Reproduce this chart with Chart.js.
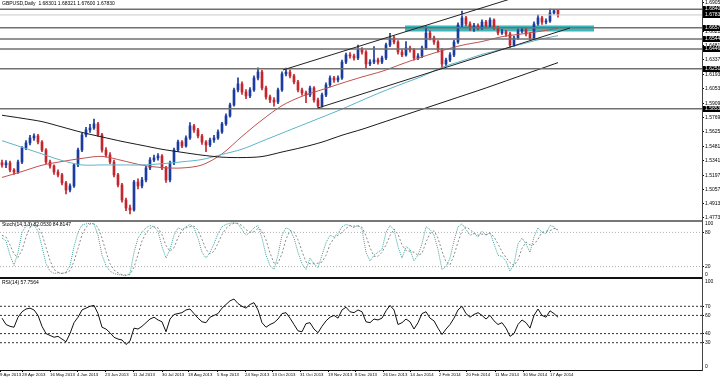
<!DOCTYPE html>
<html>
<head>
<meta charset="utf-8">
<script src="https://cdn.jsdelivr.net/npm/chart.js@4.4.1/dist/chart.umd.min.js"></script>
<style>
html, body { margin: 0; padding: 0; background: #fff; }
#wrap { position: relative; width: 720px; height: 377px; overflow: hidden; background: #fff; }
#wrap canvas { position: absolute; left: 0; top: 0; }
</style>
</head>
<body>
<div id="wrap">
  <canvas id="mainChart" width="720" height="377"></canvas>
  <canvas id="stochChart" width="720" height="377"></canvas>
  <canvas id="rsiChart" width="720" height="377"></canvas>
</div>
<script>
// GBPUSD daily, one candle per slot (slot = x index)
const opens = [
  1.5320, 1.5298, 1.5318, 1.5248, 1.5228, 1.5327, 1.5466, 1.5516, 1.5565, 1.5585,
  1.5525, 1.5446, 1.5327, 1.5288, 1.5228, 1.5199, 1.5120, 1.5050, 1.5090, 1.5298,
  1.5446, 1.5595, 1.5644, 1.5664, 1.5704, 1.5595, 1.5446, 1.5397, 1.5327, 1.5199,
  1.5100, 1.4951, 1.4872, 1.4852, 1.5129, 1.5090, 1.5149, 1.5268, 1.5347, 1.5367,
  1.5387, 1.5268, 1.5149, 1.5318, 1.5446, 1.5525, 1.5486, 1.5565, 1.5684, 1.5644,
  1.5585, 1.5525, 1.5496, 1.5545, 1.5565, 1.5624, 1.5704, 1.5783, 1.5892, 1.6040,
  1.6100, 1.6020, 1.5981, 1.6040, 1.6159, 1.6218, 1.6060, 1.5971, 1.5941, 1.5921,
  1.6040, 1.6199, 1.6218, 1.6179, 1.6119, 1.6040, 1.6011, 1.5991, 1.6060, 1.5941,
  1.5882, 1.5991, 1.6090, 1.6159, 1.6139, 1.6159, 1.6317, 1.6387, 1.6377, 1.6357,
  1.6436, 1.6416, 1.6298, 1.6317, 1.6337, 1.6317, 1.6357, 1.6486, 1.6555, 1.6515,
  1.6416, 1.6387, 1.6456, 1.6436, 1.6357, 1.6377, 1.6456, 1.6605, 1.6555, 1.6515,
  1.6436, 1.6298, 1.6337, 1.6387, 1.6515, 1.6684, 1.6753, 1.6694, 1.6654, 1.6674,
  1.6654, 1.6713, 1.6674, 1.6733, 1.6654, 1.6605, 1.6614, 1.6595, 1.6486, 1.6555,
  1.6624, 1.6634, 1.6595, 1.6555, 1.6694, 1.6753, 1.6713, 1.6723, 1.6803, 1.6830
];
const highs = [
  1.5345, 1.5340, 1.5335, 1.5262, 1.5345, 1.5480, 1.5540, 1.5590, 1.5605, 1.5600,
  1.5540, 1.5460, 1.5345, 1.5300, 1.5250, 1.5215, 1.5135, 1.5110, 1.5310, 1.5465,
  1.5610, 1.5670, 1.5700, 1.5752, 1.5720, 1.5610, 1.5470, 1.5420, 1.5345, 1.5215,
  1.5115, 1.4970, 1.4900, 1.5145, 1.5160, 1.5175, 1.5285, 1.5370, 1.5395, 1.5410,
  1.5400, 1.5285, 1.5335, 1.5465, 1.5545, 1.5540, 1.5585, 1.5717, 1.5700, 1.5660,
  1.5600, 1.5540, 1.5565, 1.5590, 1.5645, 1.5720, 1.5805, 1.5910, 1.6060, 1.6160,
  1.6120, 1.6045, 1.6065, 1.6180, 1.6259, 1.6235, 1.6080, 1.5990, 1.5965, 1.6060,
  1.6220, 1.6257, 1.6240, 1.6195, 1.6135, 1.6060, 1.6030, 1.6080, 1.6075, 1.5960,
  1.6010, 1.6110, 1.6180, 1.6175, 1.6180, 1.6335, 1.6405, 1.6410, 1.6395, 1.6484,
  1.6460, 1.6430, 1.6340, 1.6470, 1.6355, 1.6375, 1.6505, 1.6602, 1.6575, 1.6530,
  1.6440, 1.6520, 1.6475, 1.6450, 1.6400, 1.6475, 1.6668, 1.6625, 1.6575, 1.6530,
  1.6450, 1.6355, 1.6410, 1.6535, 1.6705, 1.6822, 1.6770, 1.6715, 1.6700, 1.6695,
  1.6735, 1.6730, 1.6755, 1.6745, 1.6670, 1.6640, 1.6630, 1.6610, 1.6575, 1.6645,
  1.6660, 1.6650, 1.6610, 1.6715, 1.6785, 1.6770, 1.6745, 1.6841, 1.6838, 1.6832
];
const lows = [
  1.5275, 1.5270, 1.5230, 1.5205, 1.5215, 1.5310, 1.5450, 1.5495, 1.5540, 1.5505,
  1.5430, 1.5310, 1.5265, 1.5205, 1.5180, 1.5100, 1.5010, 1.5030, 1.5075, 1.5280,
  1.5430, 1.5575, 1.5620, 1.5650, 1.5580, 1.5425, 1.5375, 1.5310, 1.5180, 1.5080,
  1.4930, 1.4845, 1.4814, 1.4840, 1.5060, 1.5070, 1.5130, 1.5250, 1.5330, 1.5345,
  1.5250, 1.5125, 1.5130, 1.5300, 1.5430, 1.5470, 1.5475, 1.5550, 1.5620, 1.5565,
  1.5500, 1.5430, 1.5480, 1.5520, 1.5550, 1.5610, 1.5690, 1.5770, 1.5880, 1.6020,
  1.5995, 1.5955, 1.5965, 1.6025, 1.6140, 1.6040, 1.5950, 1.5915, 1.5880, 1.5905,
  1.6025, 1.6180, 1.6160, 1.6100, 1.6020, 1.5990, 1.5915, 1.5975, 1.5920, 1.5855,
  1.5870, 1.5975, 1.6070, 1.6115, 1.6120, 1.6145, 1.6300, 1.6355, 1.6335, 1.6340,
  1.6395, 1.6250, 1.6280, 1.6300, 1.6295, 1.6300, 1.6340, 1.6470, 1.6495, 1.6395,
  1.6370, 1.6375, 1.6415, 1.6335, 1.6340, 1.6360, 1.6440, 1.6535, 1.6490, 1.6415,
  1.6252, 1.6275, 1.6320, 1.6370, 1.6500, 1.6665, 1.6675, 1.6630, 1.6620, 1.6635,
  1.6640, 1.6655, 1.6660, 1.6640, 1.6585, 1.6590, 1.6570, 1.6460, 1.6470, 1.6540,
  1.6605, 1.6575, 1.6535, 1.6540, 1.6680, 1.6690, 1.6695, 1.6710, 1.6790, 1.6760
];
const closes = [
  1.5298, 1.5318, 1.5248, 1.5228, 1.5327, 1.5466, 1.5516, 1.5565, 1.5585, 1.5525,
  1.5446, 1.5327, 1.5288, 1.5228, 1.5199, 1.5120, 1.5050, 1.5090, 1.5298, 1.5446,
  1.5595, 1.5644, 1.5664, 1.5704, 1.5595, 1.5446, 1.5397, 1.5327, 1.5199, 1.5100,
  1.4951, 1.4872, 1.4852, 1.5129, 1.5090, 1.5149, 1.5268, 1.5347, 1.5367, 1.5387,
  1.5268, 1.5149, 1.5318, 1.5446, 1.5525, 1.5486, 1.5565, 1.5684, 1.5644, 1.5585,
  1.5525, 1.5496, 1.5545, 1.5565, 1.5624, 1.5704, 1.5783, 1.5892, 1.6040, 1.6100,
  1.6020, 1.5981, 1.6040, 1.6159, 1.6218, 1.6060, 1.5971, 1.5941, 1.5921, 1.6040,
  1.6199, 1.6218, 1.6179, 1.6119, 1.6040, 1.6011, 1.5991, 1.6060, 1.5941, 1.5882,
  1.5991, 1.6090, 1.6159, 1.6139, 1.6159, 1.6317, 1.6387, 1.6377, 1.6357, 1.6436,
  1.6416, 1.6298, 1.6317, 1.6337, 1.6317, 1.6357, 1.6486, 1.6555, 1.6515, 1.6416,
  1.6387, 1.6456, 1.6436, 1.6357, 1.6377, 1.6456, 1.6605, 1.6555, 1.6515, 1.6436,
  1.6298, 1.6337, 1.6387, 1.6515, 1.6684, 1.6753, 1.6694, 1.6654, 1.6674, 1.6654,
  1.6713, 1.6674, 1.6733, 1.6654, 1.6605, 1.6614, 1.6595, 1.6486, 1.6555, 1.6624,
  1.6634, 1.6595, 1.6555, 1.6694, 1.6753, 1.6713, 1.6723, 1.6803, 1.6825, 1.6783
];

// moving averages, sampled at these slots
const maSlots = [0, 5, 10, 15, 20, 25, 30, 35, 40, 45, 50, 55, 60, 65, 70, 75, 80, 85, 90, 95, 100, 105, 110, 115, 120, 125, 130, 135, 139];
const maRed = [1.5174, 1.5233, 1.5295, 1.5332, 1.5363, 1.5383, 1.5342, 1.5296, 1.5272, 1.5268, 1.5298, 1.5407, 1.5581, 1.5743, 1.5885, 1.5978, 1.6043, 1.6108, 1.6169, 1.6225, 1.6298, 1.6367, 1.6430, 1.6483, 1.6520, 1.6568, 1.6595, 1.6624, 1.6651];
const maCyan = [1.5538, 1.5473, 1.5407, 1.5342, 1.5298, 1.5298, 1.5298, 1.5298, 1.5310, 1.5329, 1.5352, 1.5402, 1.5454, 1.5533, 1.5613, 1.5692, 1.5771, 1.5851, 1.5938, 1.6022, 1.6100, 1.6175, 1.6264, 1.6328, 1.6392, 1.6443, 1.6495, 1.6546, 1.6578];
const maBlack = [1.5790, 1.5760, 1.5727, 1.5674, 1.5620, 1.5575, 1.5531, 1.5492, 1.5453, 1.5423, 1.5395, 1.5375, 1.5371, 1.5381, 1.5426, 1.5471, 1.5524, 1.5592, 1.5651, 1.5717, 1.5783, 1.5849, 1.5915, 1.5981, 1.6047, 1.6116, 1.6186, 1.6255, 1.6311];

// horizontal levels, bid line, channel, zone
const levels = [1.68400, 1.66570, 1.65441, 1.64467, 1.62512, 1.58535];
const bidPrice = 1.67830;
const upperTrend = [[70.25, 1.6238], [129.5, 1.6971]];
const lowerTrend = [[79, 1.5862], [142, 1.6654]];
const zoneSlots = [100.75, 148];
const zonePrices = [1.6624, 1.6674];

// oscillators
const stochK = [
  70, 65, 40, 22, 45, 80, 92, 95, 93, 82,
  55, 25, 12, 8, 9, 8, 10, 22, 55, 80,
  93, 95, 96, 95, 75, 40, 22, 12, 8, 6,
  5, 4, 8, 45, 70, 80, 88, 92, 90, 82,
  55, 35, 50, 75, 88, 85, 90, 94, 88, 70,
  45, 35, 45, 60, 78, 90, 94, 96, 97, 95,
  85, 75, 80, 88, 92, 70, 40, 22, 15, 40,
  75, 88, 85, 70, 45, 25, 15, 35, 25, 18,
  40, 62, 75, 72, 78, 90, 94, 92, 88, 93,
  85, 45, 30, 40, 45, 50, 80, 92, 85, 55,
  35, 55, 50, 30, 40, 60, 90, 85, 75, 50,
  15, 20, 35, 65, 90, 95, 85, 75, 78, 72,
  82, 75, 80, 60, 40, 38, 30, 12, 25, 60,
  70, 60, 45, 72, 88, 80, 78, 92, 90, 82
];
const stochD = [
  75, 72, 58, 42, 36, 49, 72, 89, 93, 90,
  77, 54, 31, 15, 10, 8, 9, 13, 29, 52,
  76, 89, 95, 95, 89, 70, 46, 25, 14, 9,
  6, 5, 6, 19, 41, 65, 79, 87, 90, 88,
  76, 57, 47, 53, 71, 83, 88, 90, 91, 84,
  68, 50, 42, 47, 61, 76, 87, 93, 96, 96,
  92, 85, 80, 81, 87, 83, 67, 44, 26, 26,
  43, 68, 83, 81, 67, 47, 28, 25, 25, 26,
  28, 40, 59, 70, 75, 80, 87, 92, 91, 91,
  89, 74, 53, 38, 38, 45, 58, 74, 86, 77,
  58, 48, 47, 45, 40, 43, 63, 78, 83, 70,
  47, 28, 23, 40, 63, 83, 90, 85, 79, 75,
  77, 76, 79, 72, 60, 46, 36, 27, 22, 32,
  52, 63, 58, 59, 68, 80, 82, 83, 87, 85
];
const rsiValues = [
  57, 50, 48, 47, 58, 64, 67, 68, 66, 60,
  48, 40, 38, 36, 37, 34, 31, 40, 52, 58,
  66, 68, 70, 71, 62, 47, 45, 41, 36, 34,
  33, 28, 32, 46, 45, 48, 52, 56, 58, 55,
  53, 42, 56, 61, 62, 63, 66, 67, 62, 57,
  53, 52, 58, 60, 62, 68, 72, 76, 78, 73,
  70, 68, 72, 74, 66, 52, 47, 50, 52, 56,
  62, 63, 57, 50, 43, 42, 51, 52, 45, 41,
  48, 54, 58, 60, 57, 66, 69, 64, 63, 66,
  64, 53, 52, 56, 55, 57, 65, 71, 66, 50,
  52, 56, 53, 45, 52, 62, 64, 57, 54, 46,
  39, 45, 50, 57, 66, 70, 62, 58, 61, 63,
  60, 56, 60, 54, 50, 52, 46, 37, 40, 50,
  55, 52, 46, 60, 67, 60, 58, 65, 62, 58
];
const stochLevels = [80, 20];
const rsiLevels = [70, 60, 40, 30];

// axes
const priceTicks = [1.6905, 1.6621, 1.6481, 1.6337, 1.6193, 1.6053, 1.5909, 1.5769, 1.5625, 1.5481, 1.5341, 1.5197, 1.5057, 1.4913, 1.4773];
const dateTicks = [-0.5, 5, 12, 18.75, 25.75, 32.75, 40, 46.5, 53.75, 60.75, 67.5, 74.5, 81.5, 88.25, 95.25, 102, 109.25, 116, 123.25, 130.25, 137];
const dateLabels = ['9 Apr 2013', '28 Apr 2013', '16 May 2013', '4 Jun 2013', '23 Jun 2013', '11 Jul 2013', '30 Jul 2013', '18 Aug 2013', '5 Sep 2013', '24 Sep 2013', '13 Oct 2013', '31 Oct 2013', '19 Nov 2013', '8 Dec 2013', '26 Dec 2013', '14 Jan 2014', '2 Feb 2014', '20 Feb 2014', '11 Mar 2014', '30 Mar 2014', '17 Apr 2014'];

const X_MIN = -0.5, X_MAX = 175;
const FONT = "'Liberation Sans', Arial, sans-serif";
const BULL = '#1b3c9e', BEAR = '#c4262e';

Chart.defaults.font.family = FONT;
Chart.defaults.font.size = 5;
Chart.defaults.color = '#000';
Chart.defaults.animation = false;
Chart.defaults.events = [];
Chart.defaults.plugins.legend.display = false;
Chart.defaults.plugins.tooltip.enabled = false;

// titles, panel edges, highlighted price tags
const panelDeco = {
    id: 'panelDeco',
    afterDraw(chart, args, opts) {
        const { ctx, chartArea } = chart;
        const yScale = chart.scales.y;
        ctx.save();
        ctx.font = `5px ${FONT}`;
        ctx.textBaseline = 'middle';
        ctx.fillStyle = '#000';
        if (opts.title) ctx.fillText(opts.title, chartArea.left + 2, chartArea.top + 4);
        if (opts.edge) {
            ctx.strokeStyle = opts.edge.color;
            ctx.lineWidth = opts.edge.width;
            ctx.beginPath();
            ctx.moveTo(0, chartArea.bottom);
            ctx.lineTo(chartArea.right, chartArea.bottom);
            ctx.stroke();
        }
        if (opts.endLabels) {
            const x = chartArea.right + 3;
            ctx.fillText('100', x, yScale.getPixelForValue(100) + 3);
            ctx.fillText('0', x, yScale.getPixelForValue(0) - 3);
        }
        (opts.tags || []).forEach(v => {
            const py = Math.round(yScale.getPixelForValue(v));
            ctx.fillStyle = '#000';
            ctx.fillRect(chartArea.right + 1, py - 3, 20, 6);
            ctx.fillStyle = '#fff';
            ctx.fillText(v.toFixed(5), chartArea.right + 3, py);
        });
        ctx.restore();
    }
};

function hLine(value, color, width, dash, order) {
    return {
        type: 'line',
        data: [{ x: X_MIN, y: value }, { x: X_MAX, y: value }],
        borderColor: color, borderWidth: width, borderDash: dash || [],
        pointRadius: 0, fill: false, order: order
    };
}

function segment(pts, color, order) {
    return {
        type: 'line',
        data: pts.map(p => ({ x: p[0], y: p[1] })),
        borderColor: color, borderWidth: 1, pointRadius: 0, fill: false, order: order
    };
}

function maLine(values, color) {
    return {
        type: 'line',
        data: values.map((v, i) => ({ x: maSlots[i], y: v })),
        borderColor: color, borderWidth: 1, pointRadius: 0, fill: false, tension: 0.3, order: 4
    };
}

function rightAxis(extra) {
    return Object.assign({
        position: 'right',
        afterFit: s => { s.width = 18; s.paddingTop = 0; s.paddingBottom = 0; },
        ticks: { padding: 1, autoSkip: false, font: { size: 5 } },
        grid: { drawOnChartArea: false, drawTicks: true, tickLength: 2, color: '#000' },
        border: { display: true, color: '#444', width: 1 }
    }, extra);
}

const hiddenX = { type: 'linear', display: false, min: X_MIN, max: X_MAX, offset: false };
const candleColors = opens.map((o, i) => (closes[i] >= o ? BULL : BEAR));

new Chart(document.getElementById('mainChart'), {
    type: 'bar',
    data: {
        datasets: [
            {
                type: 'line',
                data: zoneSlots.map(x => ({ x: x, y: zonePrices[1] })),
                borderColor: '#3cb8bc', borderWidth: 1, pointRadius: 0,
                backgroundColor: '#3cb8bc', fill: '+1', order: 10
            },
            {
                type: 'line',
                data: zoneSlots.map(x => ({ x: x, y: zonePrices[0] })),
                borderColor: '#3cb8bc', borderWidth: 1, pointRadius: 0, fill: false, order: 10
            },
            {
                data: lows.map((l, i) => ({ x: i, y: [l, highs[i]] })),
                backgroundColor: candleColors, barThickness: 1, grouped: false, order: 6
            },
            {
                data: opens.map((o, i) => ({ x: i, y: [o, closes[i]] })),
                backgroundColor: candleColors, barThickness: 2, minBarLength: 1, grouped: false, order: 5
            },
            maLine(maBlack, '#1a1a1a'),
            maLine(maCyan, '#5db5c8'),
            maLine(maRed, '#c0504d'),
            ...levels.map(v => hLine(v, '#707070', 1.5, null, 3)),
            hLine(bidPrice, '#c8c8c8', 1, null, 3),
            segment(upperTrend, '#222', 2),
            segment(lowerTrend, '#222', 2)
        ]
    },
    options: {
        responsive: false,
        layout: { padding: { top: 0, bottom: 156, left: 0, right: 0 } },
        scales: {
            x: hiddenX,
            y: rightAxis({
                type: 'linear', min: 1.4743, max: 1.6931,
                afterBuildTicks: s => { s.ticks = priceTicks.map(v => ({ value: v })); },
                ticks: { padding: 1, autoSkip: false, font: { size: 5 }, callback: v => v.toFixed(5) }
            })
        },
        plugins: {
            panelDeco: {
                title: 'GBPUSD,Daily  1.68301 1.68321 1.67600 1.67830',
                edge: { color: '#777', width: 2 },
                tags: levels.slice(0, 1).concat([bidPrice], levels.slice(1))
            }
        }
    },
    plugins: [panelDeco]
});

new Chart(document.getElementById('stochChart'), {
    type: 'line',
    data: {
        datasets: [
            ...stochLevels.map(v => hLine(v, '#b0b0b0', 1, [1, 2], 3)),
            {
                data: stochD.map((v, i) => ({ x: i, y: v })),
                borderColor: '#8a8a8a', borderWidth: 1, borderDash: [2, 2], pointRadius: 0, order: 2
            },
            {
                data: stochK.map((v, i) => ({ x: i, y: v })),
                borderColor: '#3aa39a', borderWidth: 1, borderDash: [1, 1], pointRadius: 0, order: 1
            }
        ]
    },
    options: {
        responsive: false,
        layout: { padding: { top: 221, bottom: 99, left: 0, right: 0 } },
        scales: {
            x: hiddenX,
            y: rightAxis({
                type: 'linear', min: 0, max: 100,
                afterBuildTicks: s => { s.ticks = stochLevels.map(v => ({ value: v })); }
            })
        },
        plugins: {
            panelDeco: {
                title: 'Stoch(14,3,3) 82.0530 84.8147',
                edge: { color: '#111', width: 2 },
                endLabels: true
            }
        }
    },
    plugins: [panelDeco]
});

new Chart(document.getElementById('rsiChart'), {
    type: 'line',
    data: {
        datasets: [
            ...rsiLevels.map(v => hLine(v, '#333', 1, [2, 2], 3)),
            {
                data: rsiValues.map((v, i) => ({ x: i, y: v })),
                borderColor: '#111', borderWidth: 1, pointRadius: 0, order: 1
            }
        ]
    },
    options: {
        responsive: false,
        layout: { padding: { top: 279, bottom: 0, left: 0, right: 0 } },
        scales: {
            x: {
                type: 'linear', min: X_MIN, max: X_MAX, offset: false,
                afterBuildTicks: s => { s.ticks = dateTicks.map(v => ({ value: v })); },
                afterFit: s => { s.height = 7; s.paddingLeft = 0; s.paddingRight = 0; },
                ticks: {
                    callback: (v, i) => dateLabels[i],
                    align: 'start', autoSkip: false, maxRotation: 0, minRotation: 0,
                    padding: 0, font: { size: 4.3 }
                },
                grid: { drawOnChartArea: false, drawTicks: true, tickLength: 2, color: '#000' },
                border: { display: true, color: '#111', width: 1 }
            },
            y: rightAxis({
                type: 'linear', min: 0, max: 100,
                afterBuildTicks: s => { s.ticks = rsiLevels.map(v => ({ value: v })); }
            })
        },
        plugins: {
            panelDeco: {
                title: 'RSI(14) 57.7564',
                endLabels: true
            }
        }
    },
    plugins: [panelDeco]
});
</script>
</body>
</html>
